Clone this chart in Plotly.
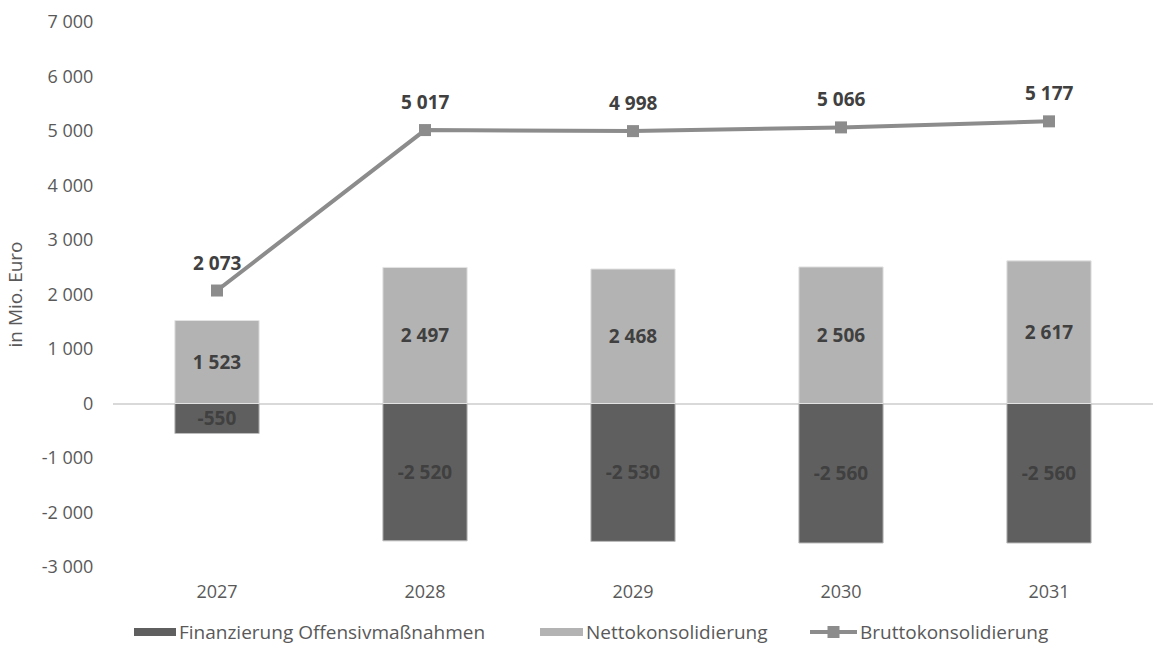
import plotly.graph_objects as go

years = ["2027", "2028", "2029", "2030", "2031"]
finanzierung = [-550, -2520, -2530, -2560, -2560]
netto = [1523, 2497, 2468, 2506, 2617]
brutto = [2073, 5017, 4998, 5066, 5177]
series_names = ["Finanzierung Offensivmaßnahmen", "Nettokonsolidierung", "Bruttokonsolidierung"]
y_ticks = [-3000, -2000, -1000, 0, 1000, 2000, 3000, 4000, 5000, 6000, 7000]

W, H = 1156, 646
FONT = "Open Sans"
TXT = "#404040"
AXIS_TXT = "#595959"
DARK = "#5f5f5f"
LIGHT = "#b3b3b3"
LINE = "#8c8c8c"


def fmt(v):
    # thousands separated by a space, plain hyphen for negatives
    return f"{v:,}".replace(",", " ")


def px(x):
    return x / W


def py(y):
    return 1 - y / H


fig = go.Figure()

fig.add_trace(go.Bar(
    x=years, y=finanzierung, name=series_names[0], showlegend=False,
    marker=dict(color=DARK, line=dict(color="#bdbdbd", width=1)),
    width=0.405,
    text=[fmt(v) for v in finanzierung],
    textposition="inside", insidetextanchor="middle", constraintext="none",
    textfont=dict(family=FONT, size=19, color=TXT, weight="bold"),
))
fig.add_trace(go.Bar(
    x=years, y=netto, name=series_names[1], showlegend=False,
    marker=dict(color=LIGHT, line=dict(color="#e3e3e3", width=1)),
    width=0.405,
    text=[fmt(v) for v in netto],
    textposition="inside", insidetextanchor="middle", constraintext="none",
    textfont=dict(family=FONT, size=19, color=TXT, weight="bold"),
))
fig.add_trace(go.Scatter(
    x=years, y=brutto, name=series_names[2], showlegend=False,
    mode="lines+markers",
    line=dict(color=LINE, width=4),
    marker=dict(symbol="square", size=12, color=LINE),
))

# value labels above the line points (x given as category index)
for i, v in enumerate(brutto):
    fig.add_annotation(
        x=i, y=v, xref="x", yref="y", text=fmt(v), showarrow=False,
        yanchor="bottom", yshift=13,
        font=dict(family=FONT, size=19, color=TXT, weight="bold"),
    )

# legend row below the axis
LEG_Y = 632
legend_items = [
    ("bar", DARK, 134, 176, series_names[0]),
    ("bar", LIGHT, 540, 583, series_names[1]),
    ("line", LINE, 810, 857, series_names[2]),
]
for kind, color, x0, x1, name in legend_items:
    if kind == "bar":
        fig.add_shape(type="rect", xref="paper", yref="paper",
                      x0=px(x0), x1=px(x1), y0=py(LEG_Y + 4), y1=py(LEG_Y - 4),
                      fillcolor=color, line=dict(width=0))
    else:
        fig.add_shape(type="line", xref="paper", yref="paper",
                      x0=px(x0), x1=px(x1), y0=py(LEG_Y), y1=py(LEG_Y),
                      line=dict(color=color, width=4))
        xm = (x0 + x1) / 2
        fig.add_shape(type="rect", xref="paper", yref="paper",
                      x0=px(xm - 6), x1=px(xm + 6), y0=py(LEG_Y + 6), y1=py(LEG_Y - 6),
                      fillcolor=color, line=dict(width=0))
    fig.add_annotation(
        x=px(x1 + 2), y=py(LEG_Y), xref="paper", yref="paper",
        text=name, showarrow=False, xanchor="left", yanchor="middle",
        borderpad=0,
        font=dict(family=FONT, size=19, color=AXIS_TXT),
    )

fig.update_layout(
    width=W, height=H,
    barmode="relative",
    showlegend=False,
    plot_bgcolor="white", paper_bgcolor="white",
    margin=dict(l=0, r=0, t=0, b=0, autoexpand=False),
    font=dict(family=FONT, size=18, color=AXIS_TXT),
    xaxis=dict(
        type="category", range=[-0.5, 4.5], domain=[px(113), px(1153)],
        automargin=False,
        showgrid=False, showline=False, zeroline=False,
        ticks="outside", ticklen=8, tickcolor="rgba(0,0,0,0)",
        tickfont=dict(family=FONT, size=18, color=AXIS_TXT),
    ),
    yaxis=dict(
        range=[-3000, 7000], domain=[py(567), py(22)],
        automargin=False,
        tickvals=y_ticks, ticktext=[fmt(v) for v in y_ticks],
        showgrid=False, zeroline=True, zerolinecolor="#d9d9d9", zerolinewidth=2,
        showline=False,
        ticks="outside", ticklen=15, tickcolor="rgba(0,0,0,0)",
        tickfont=dict(family=FONT, size=18, color=AXIS_TXT),
        title=dict(text="in Mio. Euro", standoff=14,
                   font=dict(family=FONT, size=19, color=AXIS_TXT)),
    ),
)

fig.write_html("out.html")
